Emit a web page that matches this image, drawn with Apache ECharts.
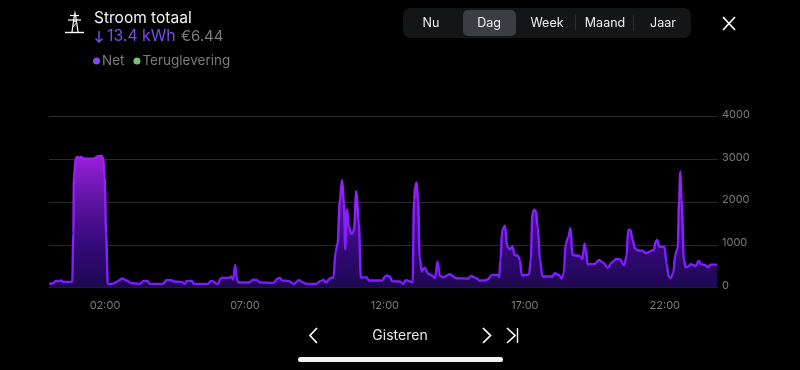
<!DOCTYPE html>
<html><head><meta charset="utf-8">
<style>html,body{margin:0;padding:0;background:#000}#c{width:800px;height:370px}</style>
<script src="https://cdn.jsdelivr.net/npm/echarts@6/dist/echarts.min.js"></script>
</head><body><div id="c"></div>
<script>
const hours=[0.01,.15,.24,.33,.42,.51,.83,.87,.89,.96,1.02,1.08,1.15,1.23,1.58,1.76,1.88,1.94,1.99,2.04,2.10,2.30,2.48,2.61,2.77,2.95,3.25,3.37,3.51,3.61,4.06,4.20,4.38,4.46,4.74,4.86,4.92,5.10,5.18,5.69,5.78,5.87,6.01,6.17,6.44,6.50,6.58,6.65,6.72,6.77,7.15,7.30,7.42,7.54,8.01,8.19,8.25,8.33,8.55,8.75,8.93,9.08,9.2,9.56,9.68,9.82,9.89,10.04,10.16,10.24,10.31,10.39,10.47,10.54,10.58,10.65,10.71,10.81,10.89,10.98,11.07,11.14,11.35,11.43,11.88,12.06,12.18,12.26,12.54,12.65,12.74,12.99,13.04,13.08,13.13,13.19,13.24,13.32,13.41,13.57,13.69,13.79,13.88,13.96,14.08,14.32,14.54,14.98,15.07,15.27,15.37,15.57,15.69,15.81,16.01,16.08,16.13,16.19,16.29,16.37,16.46,16.56,16.63,16.76,16.82,16.89,17.15,17.21,17.27,17.33,17.39,17.46,17.54,17.63,17.98,18.07,18.21,18.31,18.39,18.46,18.55,18.63,18.70,18.96,19.06,19.13,19.18,19.24,19.50,19.65,19.80,19.96,20.10,20.27,20.39,20.55,20.63,20.69,20.77,20.85,20.93,21.02,21.20,21.32,21.61,21.67,21.73,21.80,21.99,22.06,22.14,22.21,22.30,22.37,22.46,22.51,22.55,22.60,22.68,22.75,22.83,22.92,23.11,23.21,23.30,23.43,23.55,23.63,23.87];
const netWatts=[78,100,155,148,163,132,132,1270,2587,3038,3054,3030,3054,3015,3015,3070,3085,3015,2587,1270,78,93,155,210,163,100,85,155,155,85,85,170,170,140,132,85,155,155,85,85,155,140,78,225,225,256,186,528,170,117,117,186,178,117,109,218,225,163,155,85,171,117,85,85,148,179,117,218,225,839,1033,2043,2510,1966,894,1826,1422,1251,1329,2253,1500,233,241,163,163,280,256,148,140,85,171,124,2043,2354,2455,2043,723,373,466,311,280,218,606,272,241,311,218,210,272,218,163,163,194,295,295,241,645,1344,1445,956,894,956,761,738,645,280,303,645,1733,1818,1795,1422,645,256,256,334,295,210,334,1033,1173,1391,761,738,668,1033,878,544,552,645,583,458,583,668,660,521,723,1344,1344,1111,917,870,862,808,878,1072,1111,956,948,567,256,218,334,761,917,2043,2712,2043,645,474,490,544,505,629,544,528,474,536,536];
const feedIn=[];
const xTickHours=[2,7,12,17,22];
const periods=['Nu','Dag','Week','Maand','Jaar'];

const F='Inter, "Noto Sans", sans-serif';
const txt=(x,y,s,fill,size,align)=>({type:'text',x,y,silent:true,style:{text:s,fill,font:`${size}px ${F}`,align:align||'left',verticalAlign:'middle'}});
const ln=(x1,y1,x2,y2,stroke,w)=>({type:'line',shape:{x1,y1,x2,y2},silent:true,style:{stroke,lineWidth:w||1.5}});
const pl=(points,w,stroke)=>({type:'polyline',shape:{points},silent:true,style:{stroke:stroke||'#fff',fill:null,lineWidth:w||1.7}});
const periodX=[431,489,547,605,663];
const g=[
 ln(65,32.5,84,32.5,'#fff',1.4),
 ln(70,15.5,79,15.5,'#fff',1.2),ln(68,20,81,20,'#fff',1.2),
 pl([[72,32],[74,18],[75,13],[76,18],[78,32]],1.2),
 pl([[73,27],[77,22],[74,21]],1),
 txt(94,18,'Stroom totaal','#f2f2f2',15.5),
 pl([[99,31],[99,42]],1.5,'#7a4cf0'),pl([[95.5,38.5],[99,42],[102.5,38.5]],1.5,'#7a4cf0'),
 txt(107,36.5,'13.4 kWh','#7a4cf0',15.8),
 txt(181,36.5,'€6.44','#7b7b7b',15),
 {type:'rect',shape:{x:403,y:8,width:288,height:30,r:7},silent:true,style:{fill:'#141516'}},
 {type:'rect',shape:{x:463,y:10,width:53,height:26,r:5},silent:true,style:{fill:'#3a3d42'}},
 ln(575.5,15,575.5,31,'#2c2d2f',1),ln(633.5,15,633.5,31,'#2c2d2f',1),
 ...periods.map((p,i)=>txt(periodX[i],23,p,'#f0f0f0',12.5,'center')),
 ln(723,17,735,30,'#fff',1.7),ln(735,17,723,30,'#fff',1.7),
 pl([[317,328],[310,335.5],[317,343]]),
 txt(400,335.5,'Gisteren','#e8e8e8',14,'center'),
 pl([[483,328],[490.5,335.5],[483,343]]),
 pl([[507,328],[515,335.5],[507,343]]),ln(517.5,328,517.5,343,'#fff',1.4),
 {type:'rect',shape:{x:298,y:357,width:205,height:5,r:2.5},silent:true,style:{fill:'#f4f4f4'}}
];

const chart=echarts.init(document.getElementById('c'),null,{renderer:'canvas'});
chart.setOption({
 backgroundColor:'#000',animation:false,
 grid:{left:49,right:82,top:116.5,bottom:82.5},
 legend:{left:88,top:49,itemWidth:7,itemHeight:7,itemGap:9,icon:'circle',
  textStyle:{color:'#7b7b7b',fontSize:13.5,fontFamily:F,padding:[0,0,0,-3]},
  data:[{name:'Net',itemStyle:{color:'#7a4cf0'}},{name:'Teruglevering',itemStyle:{color:'#74c27a'}}]},
 xAxis:{type:'value',min:0,max:23.9,
  axisLine:{show:true,lineStyle:{color:'#2b1a55',width:1}},
  axisTick:{show:false},splitLine:{show:false},
  axisLabel:{customValues:xTickHours,color:'#7b7b7b',fontSize:11,fontFamily:F,margin:13,
   formatter:v=>String(v).padStart(2,'0')+':00'}},
 yAxis:{type:'value',position:'right',min:0,max:4000,interval:1000,
  axisLine:{show:false},axisTick:{show:false},
  splitLine:{lineStyle:{color:'#2a2a2a',width:1}},
  axisLabel:{color:'#7b7b7b',fontSize:11,fontFamily:F,margin:4,verticalAlign:'bottom',lineHeight:4,formatter:v=>String(v)}},
 graphic:{elements:g},
 series:[
  {name:'Net',type:'line',data:hours.map((h,i)=>[h,netWatts[i]]),showSymbol:false,smooth:0.35,smoothMonotone:'x',
   lineStyle:{width:2.4,color:{type:'linear',x:0,y:0,x2:0,y2:1,colorStops:[{offset:0,color:'#a51ff0'},{offset:.5,color:'#8a20ff'},{offset:1,color:'#7a1cff'}]}},
   itemStyle:{color:'#7a4cf0'},
   areaStyle:{opacity:1,color:{type:'linear',x:0,y:0,x2:0,y2:1,colorStops:[{offset:0,color:'#9a1fdc'},{offset:.35,color:'#5c14a0'},{offset:.68,color:'#34097a'},{offset:1,color:'#1e0850'}]}}},
  {name:'Teruglevering',type:'line',data:feedIn,showSymbol:false,itemStyle:{color:'#74c27a'}}
 ]
});
</script></body></html>
